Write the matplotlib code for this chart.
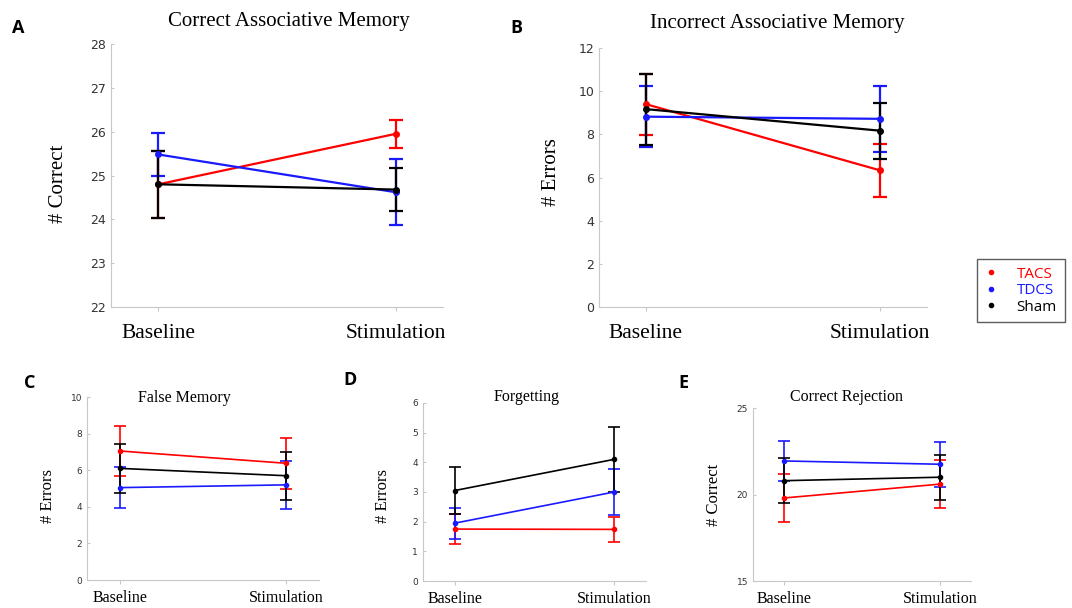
import matplotlib

matplotlib.use("Agg")
import matplotlib.pyplot as plt
from matplotlib.lines import Line2D

# ---- data (mean, error) per condition: [Baseline, Stimulation] ----
conditions = ["Baseline", "Stimulation"]
groups = ["TACS", "TDCS", "Sham"]
group_colors = {"TACS": "#ff0000", "TDCS": "#1a1aff", "Sham": "#000000"}

corr_assoc_mean = {"TACS": [24.80, 25.95], "TDCS": [25.48, 24.62], "Sham": [24.80, 24.68]}
corr_assoc_err = {"TACS": [0.77, 0.32], "TDCS": [0.49, 0.75], "Sham": [0.76, 0.49]}

incorr_assoc_mean = {"TACS": [9.40, 6.33], "TDCS": [8.82, 8.72], "Sham": [9.17, 8.17]}
incorr_assoc_err = {"TACS": [1.41, 1.23], "TDCS": [1.41, 1.53], "Sham": [1.65, 1.30]}

false_mem_mean = {"TACS": [7.05, 6.38], "TDCS": [5.05, 5.20], "Sham": [6.10, 5.70]}
false_mem_err = {"TACS": [1.35, 1.39], "TDCS": [1.12, 1.30], "Sham": [1.32, 1.30]}

forget_mean = {"TACS": [1.75, 1.74], "TDCS": [1.95, 3.00], "Sham": [3.05, 4.10]}
forget_err = {"TACS": [0.50, 0.41], "TDCS": [0.52, 0.76], "Sham": [0.80, 1.10]}

corr_rej_mean = {"TACS": [19.80, 20.60], "TDCS": [21.94, 21.75], "Sham": [20.80, 21.00]}
corr_rej_err = {"TACS": [1.37, 1.38], "TDCS": [1.15, 1.30], "Sham": [1.30, 1.30]}

SERIF = "Liberation Serif"


def draw_panel(fig, rect, means, errs, title, ylabel, ylim, yticks, big, title_x, title_y, ylab_xy):
    ax = fig.add_axes(rect)
    x = [1, 2]
    lw = 1.6 if big else 1.2
    for g in groups:
        ax.errorbar(x, means[g], yerr=errs[g], color=group_colors[g], marker="o",
                    markersize=4 if big else 3, linewidth=lw, elinewidth=lw,
                    capsize=5 if big else 4, capthick=lw)
    ax.set_xlim(0.8, 2.2)
    ax.set_ylim(*ylim)
    ax.set_yticks(yticks)
    ax.set_xticks(x)
    ax.set_xticklabels(conditions, fontfamily=SERIF, fontsize=15.5 if big else 11.5, color="black")
    for s in ("top", "right"):
        ax.spines[s].set_visible(False)
    for s in ("left", "bottom"):
        ax.spines[s].set_color("#c8c8c8")
    ax.tick_params(axis="y", direction="in", length=2, colors="#c8c8c8",
                   labelcolor="#333333", labelsize=9 if big else 6.5)
    ax.tick_params(axis="x", direction="out", length=3, colors="#c8c8c8",
                   labelcolor="black", pad=9 if big else 4)
    ax.set_title(title, fontfamily=SERIF, fontsize=15 if big else 11.5, x=title_x, y=title_y)
    ax.set_ylabel(ylabel, fontfamily=SERIF, fontsize=15 if big else 12)
    ax.yaxis.set_label_coords(*ylab_xy)
    return ax


fig = plt.figure(figsize=(10.72, 6.08), dpi=100)

draw_panel(fig, [0.1035, 0.495, 0.3097, 0.4326], corr_assoc_mean, corr_assoc_err,
           "Correct Associative Memory", "# Correct", (22, 28), range(22, 29), True,
           0.536, 1.035, (-0.128, 0.47))
draw_panel(fig, [0.5588, 0.495, 0.306, 0.426], incorr_assoc_mean, incorr_assoc_err,
           "Incorrect Associative Memory", "# Errors", (0, 12), range(0, 13, 2), True,
           0.543, 1.045, (-0.115, 0.52))
draw_panel(fig, [0.0812, 0.046, 0.2164, 0.301], false_mem_mean, false_mem_err,
           "False Memory", "# Errors", (0, 10), range(0, 11, 2), False,
           0.42, 0.93, (-0.135, 0.46))
draw_panel(fig, [0.3946, 0.0444, 0.208, 0.2928], forget_mean, forget_err,
           "Forgetting", "# Errors", (0, 6), range(0, 7), False,
           0.464, 0.965, (-0.145, 0.48))
draw_panel(fig, [0.7024, 0.0444, 0.2034, 0.2845], corr_rej_mean, corr_rej_err,
           "Correct Rejection", "# Correct", (15, 25), [15, 20, 25], False,
           0.427, 0.99, (-0.14, 0.50))

# panel letters
for letter, px, py in [("A", 18, 28), ("B", 516, 28), ("C", 30, 383), ("D", 350, 380), ("E", 683, 383)]:
    fig.text(px / 1072, 1 - py / 608, letter, fontsize=13, fontweight="bold",
             ha="center", va="center", fontfamily="Open Sans")

# legend
handles = [Line2D([], [], linestyle="none", marker="o", markersize=3, color=group_colors[g]) for g in groups]
leg = fig.legend(handles, groups, loc="upper left", bbox_to_anchor=(977 / 1072, 1 - 259 / 608),
                 borderaxespad=0, frameon=True, fancybox=False, edgecolor="#333333",
                 prop={"family": "Open Sans", "size": 11}, handlelength=0.8,
                 handletextpad=1.3, borderpad=0.5, labelspacing=0.1)
leg.get_frame().set_linewidth(1.0)
for t, g in zip(leg.get_texts(), groups):
    t.set_color(group_colors[g])

fig.savefig("out.png", dpi=100)
